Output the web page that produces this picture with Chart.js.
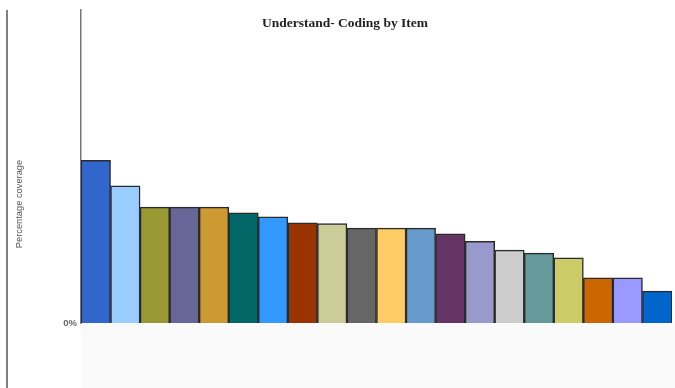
<!DOCTYPE html>
<html>
<head>
<meta charset="utf-8">
<script src="https://cdn.jsdelivr.net/npm/chart.js@4/dist/chart.umd.min.js"></script>
<style>
  html, body { margin: 0; padding: 0; background: #ffffff; }
  #wrap { width: 675px; height: 388px; position: relative; }
</style>
</head>
<body>
<div id="wrap"><canvas id="c"></canvas></div>
<script>
// Items coded under "Understand", sorted by percentage coverage
const items = [
  'Item 1', 'Item 2', 'Item 3', 'Item 4', 'Item 5',
  'Item 6', 'Item 7', 'Item 8', 'Item 9', 'Item 10',
  'Item 11', 'Item 12', 'Item 13', 'Item 14', 'Item 15',
  'Item 16', 'Item 17', 'Item 18', 'Item 19', 'Item 20'
];
const coverage = [
  5.2, 4.38, 3.7, 3.7, 3.7, 3.52, 3.39, 3.2, 3.18, 3.03,
  3.03, 3.03, 2.85, 2.61, 2.33, 2.23, 2.08, 1.44, 1.44, 1.02
];
const itemColors = [
  '#3366cc', '#99ccff', '#999933', '#666699', '#cc9933',
  '#006666', '#3399ff', '#993300', '#cccc99', '#666666',
  '#ffcc66', '#6699cc', '#663366', '#9999cc', '#cccccc',
  '#669999', '#cccc66', '#cc6600', '#9999ff', '#0066cc'
];
const yTickLabels = ['0%'];
const chartTitle = 'Understand- Coding by Item';
const yTitle = 'Percentage coverage';

// Light band under the plot, outer frame line, title and axis caption
const decor = {
  id: 'decor',
  beforeDraw(chart) {
    const { ctx, chartArea } = chart;
    ctx.save();
    ctx.fillStyle = '#fafafa';
    ctx.fillRect(chartArea.left, chartArea.bottom, chart.width - chartArea.left, chart.height - chartArea.bottom);
    ctx.strokeStyle = '#555555';
    ctx.lineWidth = 1.5;
    ctx.beginPath();
    ctx.moveTo(7, 10);
    ctx.lineTo(7, chart.height);
    ctx.stroke();
    ctx.fillStyle = '#222222';
    ctx.font = 'bold 13.5px "Liberation Serif", "Times New Roman", serif';
    ctx.textAlign = 'center';
    ctx.textBaseline = 'middle';
    ctx.fillText(chartTitle, 345, 24);
    ctx.translate(19, 204);
    ctx.rotate(-Math.PI / 2);
    ctx.fillStyle = '#555555';
    ctx.font = '9.3px "Liberation Sans", Arial, sans-serif';
    ctx.fillText(yTitle, 0, 0);
    ctx.restore();
  }
};

new Chart(document.getElementById('c'), {
  type: 'bar',
  data: {
    labels: items,
    datasets: [{
      data: coverage,
      backgroundColor: itemColors,
      borderColor: '#2b2b2b',
      borderWidth: 1.5,
      borderSkipped: 'bottom',
      categoryPercentage: 1.0,
      barPercentage: 1.0
    }]
  },
  options: {
    responsive: true,
    maintainAspectRatio: false,
    animation: false,
    layout: { padding: { top: 10, right: 3, bottom: 65, left: 0 } },
    plugins: {
      legend: { display: false },
      tooltip: { enabled: false },
      title: { display: false }
    },
    scales: {
      x: { display: false },
      y: {
        min: 0,
        max: 10,
        afterBuildTicks(scale) { scale.ticks = [{ value: 0 }]; },
        afterFit(scale) { scale.width = 81; },
        ticks: {
          padding: 4,
          color: '#666666',
          font: { family: 'Liberation Sans, Arial, sans-serif', size: 9.5, weight: 'bold' },
          callback: (v, i) => yTickLabels[i]
        },
        grid: { display: false, drawTicks: false },
        border: { display: true, color: '#777777', width: 1.5 },
        title: { display: false }
      }
    }
  },
  plugins: [decor]
});
</script>
</body>
</html>
